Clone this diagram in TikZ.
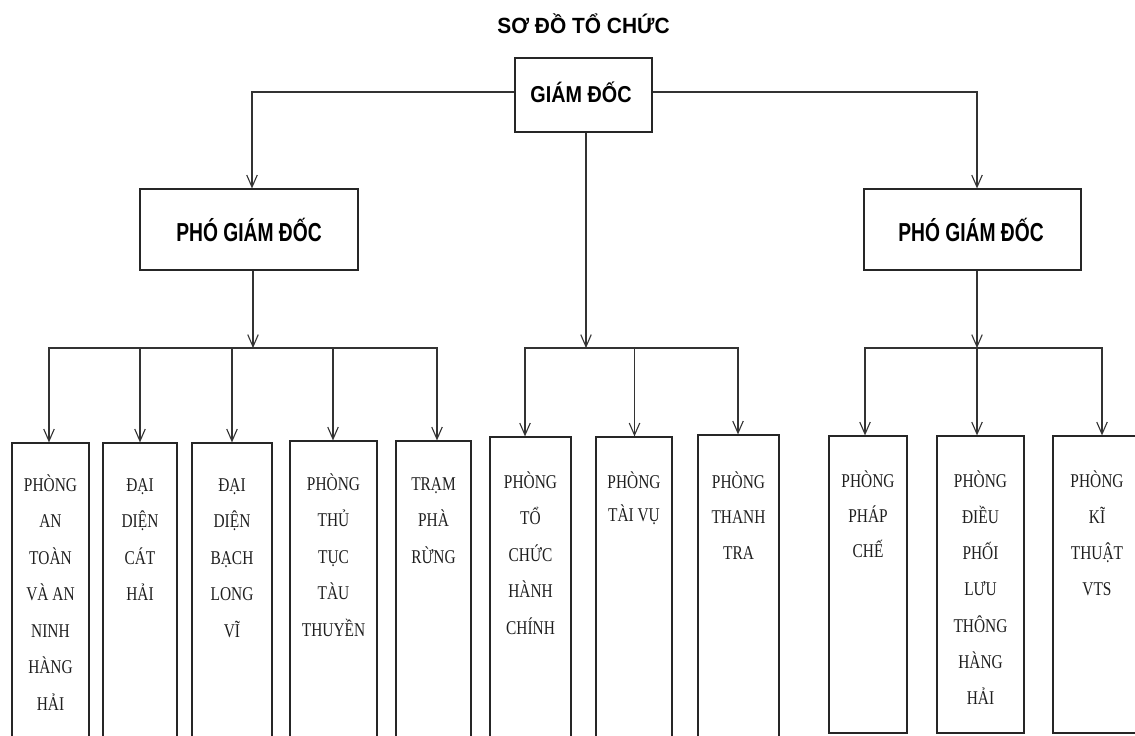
\documentclass[tikz,border=0pt]{standalone}
\usepackage{fontspec}
\usetikzlibrary{arrows.meta}
\newfontfamily\serifnarrow{Liberation Serif}[FakeStretch=0.79]
\newfontfamily\titlefont{Liberation Sans}[FakeStretch=0.95]
\newfontfamily\gdfont{Liberation Sans}[FakeStretch=0.86]
\newfontfamily\pgdfont{Liberation Sans}[FakeStretch=0.74]
\newcommand\deptlines[2][36.5]{\parbox[t]{110pt}{\centering\serifnarrow\fontsize{19.5}{#1}\selectfont #2}}
\tikzset{
  box/.style={draw=black!85, line width=1.2pt, fill=white, inner sep=0pt},
  conn/.style={draw=black!80, line width=1.1pt},
  arr/.style={conn, -{Straight Barb[length=12pt,width=10.5pt,line width=1.1pt]}},
  dept/.style={anchor=base, inner sep=0pt, text=black!88},
  headtxt/.style={anchor=base, inner sep=0pt, text=black},
}
\begin{document}
\begin{tikzpicture}[x=1pt,y=-1pt]
\useasboundingbox (0,0) rectangle (1135,736);
\clip (0,0) rectangle (1135,736);
\fill[white] (0,0) rectangle (1135,736);

% title
\node[headtxt, font=\titlefont\bfseries\fontsize{22}{26}\selectfont] (title) at (583.5,33) {SƠ ĐỒ TỔ CHỨC};

% top level
\node[box, minimum width=137pt, minimum height=74pt] (gd) at (583.5,95) {};
\node[headtxt, font=\gdfont\bfseries\fontsize{23}{27}\selectfont] (gdt) at (581,102) {GIÁM ĐỐC};

\node[box, minimum width=218pt, minimum height=81pt] (pgd1) at (249,229.5) {};
\node[headtxt, font=\pgdfont\bfseries\fontsize{26}{30}\selectfont] (pgd1t) at (249,241) {PHÓ GIÁM ĐỐC};

\node[box, minimum width=217pt, minimum height=81pt] (pgd2) at (972.5,229.5) {};
\node[headtxt, font=\pgdfont\bfseries\fontsize{26}{30}\selectfont] (pgd2t) at (971,241) {PHÓ GIÁM ĐỐC};

% bottom boxes
\node[box, minimum width=77pt, minimum height=302pt] (b1) at (50.5,594) {};
\node[box, minimum width=74pt, minimum height=302pt] (b2) at (140,594) {};
\node[box, minimum width=80pt, minimum height=302pt] (b3) at (232,594) {};
\node[box, minimum width=87pt, minimum height=304pt] (b4) at (333.5,593) {};
\node[box, minimum width=75pt, minimum height=304pt] (b5) at (433.5,593) {};
\node[box, minimum width=81pt, minimum height=308pt] (b6) at (530.5,591) {};
\node[box, minimum width=76pt, minimum height=308pt] (b7) at (634,591) {};
\node[box, minimum width=81pt, minimum height=310pt] (b8) at (738.5,590) {};
\node[box, minimum width=78pt, minimum height=297pt] (b9) at (868,584.5) {};
\node[box, minimum width=87pt, minimum height=297pt] (b10) at (980.5,584.5) {};
\node[box, minimum width=98pt, minimum height=297pt] (b11) at (1102,584.5) {};

% texts
\node[dept] (t1) at (50.5,491) {\deptlines{PHÒNG\\AN\\TOÀN\\VÀ AN\\NINH\\HÀNG\\HẢI}};
\node[dept] (t2) at (140,491) {\deptlines{ĐẠI\\DIỆN\\CÁT\\HẢI}};
\node[dept] (t3) at (232,491) {\deptlines{ĐẠI\\DIỆN\\BẠCH\\LONG\\VĨ}};
\node[dept] (t4) at (333.5,490) {\deptlines{PHÒNG\\THỦ\\TỤC\\TÀU\\THUYỀN}};
\node[dept] (t5) at (433.5,490) {\deptlines{TRẠM\\PHÀ\\RỪNG}};
\node[dept] (t6) at (530.5,488) {\deptlines{PHÒNG\\TỔ\\CHỨC\\HÀNH\\CHÍNH}};
\node[dept] (t7) at (634,488) {\deptlines[33]{PHÒNG\\TÀI VỤ}};
\node[dept] (t8) at (738.5,488) {\deptlines[35.5]{PHÒNG\\THANH\\TRA}};
\node[dept] (t9) at (868,487) {\deptlines[35]{PHÒNG\\PHÁP\\CHẾ}};
\node[dept] (t10) at (980.5,487) {\deptlines[36.3]{PHÒNG\\ĐIỀU\\PHỐI\\LƯU\\THÔNG\\HÀNG\\HẢI}};
\node[dept] (t11) at (1097,487) {\deptlines[36.3]{PHÒNG\\KĨ\\THUẬT\\VTS}};

% junctions
\coordinate (lj) at (253,348);
\coordinate (mj) at (586,348);
\coordinate (rj) at (977,348);

% connectors
\draw[arr] ([yshift=3pt]gd.west) -| ([xshift=3pt]pgd1.north);
\draw[arr] ([yshift=3pt]gd.east) -| ([xshift=4.5pt]pgd2.north);
\draw[arr] ([xshift=2.5pt]gd.south) -- (mj);
\draw[arr] ([xshift=4pt]pgd1.south) -- (lj);
\draw[arr] ([xshift=4.5pt]pgd2.south) -- (rj);

\draw[arr] (lj) -| ([xshift=-1.5pt]b1.north);
\draw[arr] (lj) -| (b2.north);
\draw[arr] (lj) -| (b3.north);
\draw[arr] (lj) -| ([xshift=-0.5pt]b4.north);
\draw[arr] (lj) -| ([xshift=3.5pt]b5.north);

\draw[arr] (mj) -| ([xshift=-5.5pt]b6.north);
\draw[arr] (mj) -| ([xshift=0.5pt]b7.north);
\draw[arr] (mj) -| ([xshift=-0.5pt]b8.north);

\draw[arr] (rj) -| ([xshift=-3pt]b9.north);
\draw[arr] (rj) -| ([xshift=-3.5pt]b10.north);
\draw[arr] (rj) -| (b11.north);
\end{tikzpicture}
\end{document}
